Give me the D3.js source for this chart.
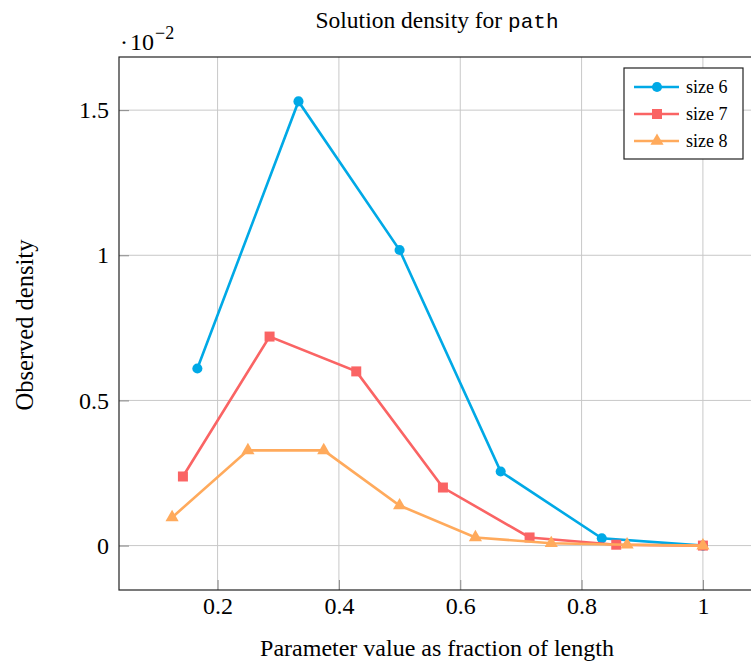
<!DOCTYPE html>
<html>
<head>
<meta charset="utf-8">
<script src="https://cdnjs.cloudflare.com/ajax/libs/d3/7.8.5/d3.min.js"></script>
<style>
  body { margin: 0; background: #fff; }
  text { font-family: "Liberation Serif", "DejaVu Serif", serif; fill: #000; }
</style>
</head>
<body>
<div id="chart"></div>
<script>
// values are in units of 1e-2
var sizes = ["size 6", "size 7", "size 8"];
var x6 = [1/6, 2/6, 3/6, 4/6, 5/6, 1];
var y6 = [0.61, 1.53, 1.018, 0.255, 0.025, 0];
var x7 = [1/7, 2/7, 3/7, 4/7, 5/7, 6/7, 1];
var y7 = [0.238, 0.72, 0.60, 0.20, 0.028, 0.003, 0];
var x8 = [1/8, 2/8, 3/8, 4/8, 5/8, 6/8, 7/8, 1];
var y8 = [0.097, 0.328, 0.328, 0.138, 0.028, 0.008, 0.003, 0];
var xTicks = [0.2, 0.4, 0.6, 0.8, 1];
var yTicks = [0, 0.5, 1, 1.5];

var colors = ["#00a9e6", "#fa6464", "#ffaa5c"];
var shapes = [d3.symbolCircle, d3.symbolSquare, d3.symbolTriangle];
var symSizes = [80, 100, 75];

var W = 751, H = 663;
var margin = {top: 57, right: -5, bottom: 73, left: 119};
var width = W - margin.left - margin.right;
var height = H - margin.top - margin.bottom;

var svg = d3.select("#chart")
  .append("svg")
    .attr("width", W)
    .attr("height", H);
var g = svg.append("g")
    .attr("transform", "translate(" + margin.left + "," + margin.top + ")");

var x = d3.scaleLinear().domain([0.0375, 1.0875]).range([0, width]);
var y = d3.scaleLinear().domain([-0.153, 1.683]).range([height, 0]);

// grid
g.append("g").selectAll("line").data(xTicks).enter().append("line")
  .attr("x1", d => x(d)).attr("x2", d => x(d))
  .attr("y1", 0).attr("y2", height)
  .attr("stroke", "#c8c8c8").attr("stroke-width", 1);
g.append("g").selectAll("line").data(yTicks).enter().append("line")
  .attr("x1", 0).attr("x2", width)
  .attr("y1", d => y(d)).attr("y2", d => y(d))
  .attr("stroke", "#c8c8c8").attr("stroke-width", 1);

// axes (ticks pointing inward)
var xAxis = g.append("g")
  .attr("transform", "translate(0," + height + ")")
  .call(d3.axisBottom(x).tickValues(xTicks).tickSize(-10).tickPadding(7)
    .tickFormat(d3.format("")));
var yAxis = g.append("g")
  .call(d3.axisLeft(y).tickValues(yTicks).tickSize(-10).tickPadding(10)
    .tickFormat(d3.format("")));
[xAxis, yAxis].forEach(function(a) {
  a.select(".domain").remove();
  a.selectAll(".tick line").attr("stroke", "#8a8a8a");
  a.selectAll(".tick text")
    .style("font-family", "Liberation Serif, serif")
    .style("font-size", "24px")
    .attr("fill", "#000");
});

var series = [
  {name: sizes[0], xs: x6, ys: y6},
  {name: sizes[1], xs: x7, ys: y7},
  {name: sizes[2], xs: x8, ys: y8}
];

var line = d3.line().x(d => x(d[0])).y(d => y(d[1]));
series.forEach(function(s, i) {
  var pts = s.xs.map((v, j) => [v, s.ys[j]]);
  g.append("path")
    .datum(pts)
    .attr("fill", "none")
    .attr("stroke", colors[i])
    .attr("stroke-width", 2.6)
    .attr("d", line);
  g.append("g").selectAll("path").data(pts).enter().append("path")
    .attr("transform", d => "translate(" + x(d[0]) + "," + y(d[1]) + ")")
    .attr("d", d3.symbol().type(shapes[i]).size(symSizes[i]))
    .attr("fill", colors[i]);
});

// frame
g.append("rect")
  .attr("width", width).attr("height", height)
  .attr("fill", "none").attr("stroke", "#222").attr("stroke-width", 1.2);

// legend
var lg = svg.append("g").attr("transform", "translate(624,68)");
lg.append("rect").attr("width", 119).attr("height", 91)
  .attr("fill", "#fff").attr("stroke", "#222").attr("stroke-width", 1.2);
sizes.forEach(function(name, i) {
  var yy = 19 + i * 27;
  lg.append("line").attr("x1", 10).attr("x2", 55).attr("y1", yy).attr("y2", yy)
    .attr("stroke", colors[i]).attr("stroke-width", 2.6);
  lg.append("path").attr("transform", "translate(33," + yy + ")")
    .attr("d", d3.symbol().type(shapes[i]).size(symSizes[i]))
    .attr("fill", colors[i]);
  lg.append("text").attr("x", 62).attr("y", yy + 6)
    .style("font-size", "18px").text(name);
});

// title
var title = svg.append("text")
  .attr("x", 437).attr("y", 28)
  .attr("text-anchor", "middle")
  .style("font-size", "23.5px");
title.append("tspan").text("Solution density for ");
title.append("tspan").style("font-family", "Liberation Mono, DejaVu Sans Mono, monospace")
  .style("font-size", "21px").text("path");

// scale factor
var sf = svg.append("text").attr("x", 120).attr("y", 50).style("font-size", "24px");
sf.append("tspan").text("·");
sf.append("tspan").attr("dx", 2).text("10");
sf.append("tspan").attr("dx", 1).attr("dy", -11).style("font-size", "18px").text("−2");

// axis labels
svg.append("text")
  .attr("x", 437).attr("y", 656)
  .attr("text-anchor", "middle")
  .style("font-size", "24px")
  .text("Parameter value as fraction of length");
svg.append("text")
  .attr("transform", "translate(33,325) rotate(-90)")
  .attr("text-anchor", "middle")
  .style("font-size", "24.5px")
  .text("Observed density");
</script>
</body>
</html>
